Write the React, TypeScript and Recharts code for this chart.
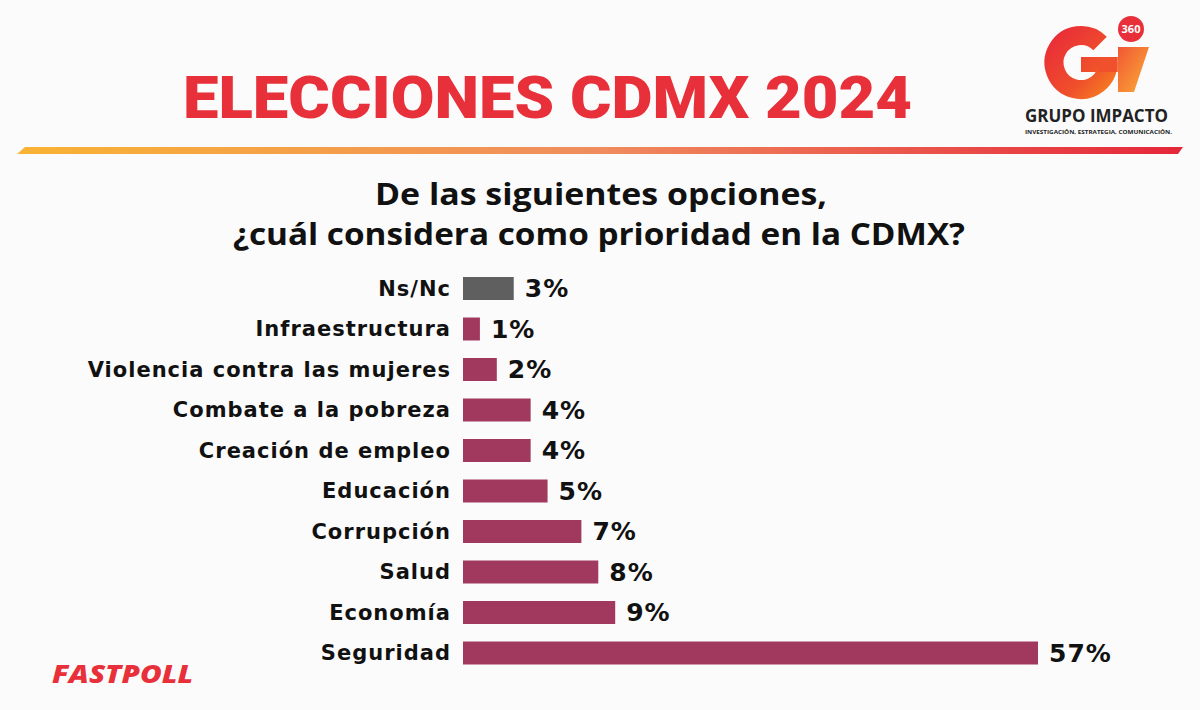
import React from 'react';
import { BarChart, Bar, XAxis, YAxis, Cell, LabelList } from 'recharts';

// ---- data ----
const categories = [
  'Ns/Nc',
  'Infraestructura',
  'Violencia contra las mujeres',
  'Combate a la pobreza',
  'Creación de empleo',
  'Educación',
  'Corrupción',
  'Salud',
  'Economía',
  'Seguridad',
];
const values = [3, 1, 2, 4, 4, 5, 7, 8, 9, 57];
// the axis is capped; the largest bar is drawn truncated (broken bar) as in the original design
const axisDomain = [0, 34];

const titleText = 'ELECCIONES CDMX 2024';
const questionLines = ['De las siguientes opciones,', '¿cuál considera como prioridad en la CDMX?'];
const brandName = 'GRUPO IMPACTO';
const brandTagline = 'INVESTIGACIÓN, ESTRATEGIA, COMUNICACIÓN.';
const footerText = 'FASTPOLL';

const data = categories.map((name, i) => ({ name, value: values[i] }));

// ---- layout ----
const W = 1200;
const H = 710;
const margin = { top: 268, right: 162, bottom: 37, left: 0 };
const plotRight = W - margin.right;
const FONT = "'Open Sans', 'Noto Sans', 'DejaVu Sans', sans-serif";
const WIDE = "'DejaVu Sans', 'Open Sans', sans-serif";
const HEAVY = "Roboto, 'Open Sans', sans-serif";
const BAR = '#a1395f';
const GRAY = '#5f5f5f';

const ValueLabel = (props: any) => {
  const vb = props.viewBox && props.viewBox.width !== undefined ? props.viewBox : props;
  const { x, y, width, height } = vb;
  const end = Math.min(x + width, plotRight);
  return (
    <text
      x={end + 11}
      y={y + height / 2}
      dominantBaseline="central"
      fontFamily={WIDE}
      fontWeight={700}
      fontSize={25}
      letterSpacing={1}
      fill="#111"
    >
      {`${props.value}%`}
    </text>
  );
};

// G of the logo drawn as a thick arc plus cross bar
const gcx = 1081;
const gcy = 62.5;
const gr = 27;
const a0 = (-45 * Math.PI) / 180;
const gPath = `M ${gcx + gr * Math.cos(a0)} ${gcy + gr * Math.sin(a0)} A ${gr} ${gr} 0 1 0 ${gcx + gr} ${gcy}`;

const Decor = () => (
  <svg width={W} height={H} style={{ position: 'absolute', left: 0, top: 0 }}>
    <defs>
      <linearGradient id="stripe" x1="0" y1="0" x2="1" y2="0">
        <stop offset="0" stopColor="#f9b334" />
        <stop offset="0.5" stopColor="#f08c5e" />
        <stop offset="1" stopColor="#e5263a" />
      </linearGradient>
      <linearGradient id="gGrad" x1="1045" y1="30" x2="1120" y2="100" gradientUnits="userSpaceOnUse">
        <stop offset="0" stopColor="#e8273a" />
        <stop offset="0.6" stopColor="#f0502b" />
        <stop offset="1" stopColor="#f7931e" />
      </linearGradient>
      <linearGradient id="iGrad" x1="0" y1="0" x2="1" y2="1">
        <stop offset="0" stopColor="#f04e2a" />
        <stop offset="1" stopColor="#fbaa2c" />
      </linearGradient>
    </defs>
    <rect x={0} y={0} width={W} height={H} fill="#fbfbfb" />
    {/* title */}
    <text
      x={183}
      y={118}
      fontFamily={HEAVY}
      fontWeight={900}
      fontSize={60}
      fill="#e8303a"
      textLength={729}
      lengthAdjust="spacingAndGlyphs"
    >
      {titleText}
    </text>
    {/* gradient stripe */}
    <polygon points="17,154 25,147 1183,147 1178,154" fill="url(#stripe)" />
    {/* question */}
    <text
      x={601}
      y={205}
      textAnchor="middle"
      fontFamily={FONT}
      fontWeight={700}
      fontSize={31}
      fill="#111"
      textLength={452}
      lengthAdjust="spacingAndGlyphs"
    >
      {questionLines[0]}
    </text>
    <text
      x={599}
      y={245}
      textAnchor="middle"
      fontFamily={FONT}
      fontWeight={700}
      fontSize={31}
      fill="#111"
      textLength={732}
      lengthAdjust="spacingAndGlyphs"
    >
      {questionLines[1]}
    </text>
    {/* logo */}
    <path d={gPath} fill="none" stroke="url(#gGrad)" strokeWidth={19} />
    <rect x={gcx} y={57} width={gr + 9.5} height={15} fill="url(#gGrad)" />
    <rect x={gcx + gr - 9.5} y={57} width={19} height={15} fill="#f0502b" />
    <polygon points="1118,47 1149,47 1134,92 1118,92" fill="url(#iGrad)" opacity={0.95} />
    <circle cx={1131} cy={29} r={13} fill="#e8303a" />
    <text x={1131} y={33} textAnchor="middle" fontFamily={FONT} fontWeight={700} fontSize={11} fill="#fff">
      360
    </text>
    <text
      x={1025}
      y={122}
      fontFamily={FONT}
      fontWeight={700}
      fontSize={17}
      fill="#222"
      textLength={143}
      lengthAdjust="spacingAndGlyphs"
    >
      {brandName}
    </text>
    <text
      x={1025}
      y={134}
      fontFamily={FONT}
      fontWeight={700}
      fontSize={6}
      fill="#222"
      textLength={147}
      lengthAdjust="spacingAndGlyphs"
    >
      {brandTagline}
    </text>
    {/* footer */}
    <text
      x={52}
      y={683}
      fontFamily={FONT}
      fontWeight={800}
      fontStyle="italic"
      fontSize={25}
      fill="#e8303a"
      textLength={141}
      lengthAdjust="spacingAndGlyphs"
    >
      {footerText}
    </text>
  </svg>
);

export default function App() {
  return (
    <div style={{ position: 'absolute', left: 0, top: 0, width: W, height: H, overflow: 'hidden' }}>
      <Decor />
      <div style={{ position: 'absolute', left: 0, top: 0 }}>
        <BarChart width={W} height={H} data={data} layout="vertical" margin={margin} barCategoryGap={17}>
          <XAxis type="number" domain={axisDomain} allowDataOverflow hide />
          <YAxis
            type="category"
            dataKey="name"
            width={463}
            axisLine={false}
            tickLine={false}
            tickSize={0}
            tickMargin={12}
            interval={0}
            tick={{ fontFamily: WIDE, fontWeight: 700, fontSize: 21, letterSpacing: 1, fill: '#111' }}
          />
          <Bar dataKey="value" isAnimationActive={false} barSize={23}>
            {data.map((d) => (
              <Cell key={d.name} fill={d.name === 'Ns/Nc' ? GRAY : BAR} />
            ))}
            <LabelList dataKey="value" content={<ValueLabel />} />
          </Bar>
        </BarChart>
      </div>
    </div>
  );
}
